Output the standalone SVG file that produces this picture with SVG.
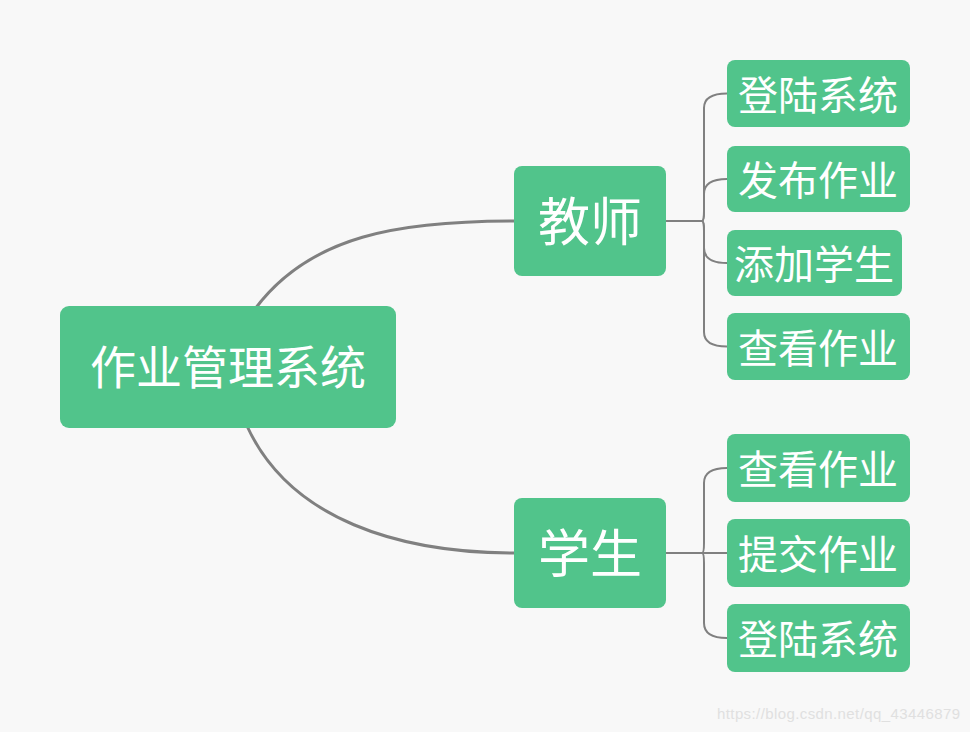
<svg xmlns="http://www.w3.org/2000/svg" width="970" height="732" viewBox="0 0 970 732">
<style>
.box{fill:#51C48B}
.t{fill:#ffffff;font-family:"Noto Sans CJK SC","Noto Sans",sans-serif;text-anchor:middle;dominant-baseline:central}
.main{fill:none;stroke:#808080;stroke-width:3}
.br{fill:none;stroke:#808080;stroke-width:2}
</style>
<rect width="970" height="732" fill="#f8f8f8"/>
<g id="connectors">
<path class="main" d="M255,309 C310,235 400,221 514,221"/>
<path class="main" d="M247,426 C290,520 400,553 514,553"/>
<path class="br" d="M666,221 H702"/>
<path class="br" d="M702,221 Q704,221 704,211 V108 Q704,93.5 727,93.5"/>
<path class="br" d="M702,221 Q704,221 704,211 V194 Q704,179 727,179"/>
<path class="br" d="M702,221 Q704,221 704,231 V248 Q704,263 727,263"/>
<path class="br" d="M702,221 Q704,221 704,231 V332 Q704,346.5 727,346.5"/>
<path class="br" d="M666,553 H702"/>
<path class="br" d="M702,553 Q704,553 704,543 V483 Q704,468 727,468"/>
<path class="br" d="M702,553 H727"/>
<path class="br" d="M702,553 Q704,553 704,563 V623 Q704,638 727,638"/>
</g>
<g id="root"><rect class="box" x="60" y="306" width="336" height="122" rx="9"/><text class="t" x="228" y="364" font-size="46">作业管理系统</text></g>
<g id="teacher"><rect class="box" x="514" y="166" width="152" height="110" rx="8"/><text class="t" x="590" y="218" font-size="52">教师</text></g>
<g id="student"><rect class="box" x="514" y="498" width="152" height="110" rx="8"/><text class="t" x="590" y="550" font-size="52">学生</text></g>
<g id="t1"><rect class="box" x="727" y="60" width="183" height="67" rx="8"/><text class="t" x="818" y="93" font-size="40">登陆系统</text></g>
<g id="t2"><rect class="box" x="727" y="146" width="183" height="66" rx="8"/><text class="t" x="818" y="178" font-size="40">发布作业</text></g>
<g id="t3"><rect class="box" x="727" y="230" width="175" height="66" rx="8"/><text class="t" x="814" y="262" font-size="40">添加学生</text></g>
<g id="t4"><rect class="box" x="727" y="313" width="183" height="67" rx="8"/><text class="t" x="818" y="346" font-size="40">查看作业</text></g>
<g id="s1"><rect class="box" x="727" y="434" width="183" height="68" rx="8"/><text class="t" x="818" y="467" font-size="40">查看作业</text></g>
<g id="s2"><rect class="box" x="727" y="519" width="183" height="68" rx="8"/><text class="t" x="818" y="552" font-size="40">提交作业</text></g>
<g id="s3"><rect class="box" x="727" y="604" width="183" height="68" rx="8"/><text class="t" x="818" y="637" font-size="40">登陆系统</text></g>
<text x="717" y="719" font-family="Liberation Sans, Arial, sans-serif" font-size="15" fill="#e0e0e0" textLength="243">https://blog.csdn.net/qq_43446879</text>
</svg>
